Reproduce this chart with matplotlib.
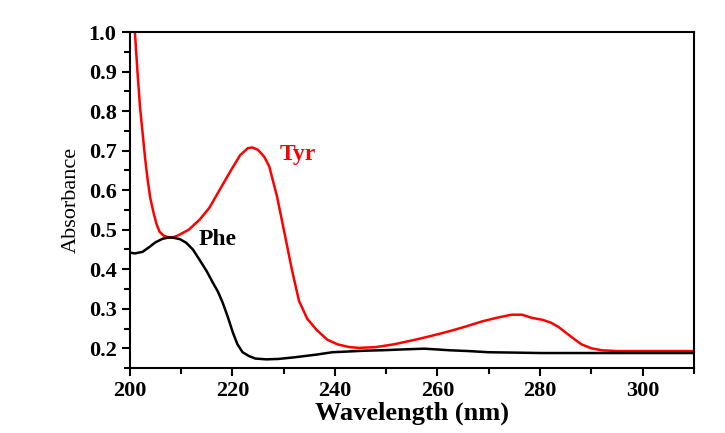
import matplotlib.pyplot as plt
from matplotlib.ticker import MultipleLocator

# Absorbance spectra
tyr_nm = [201.0, 201.5, 202.0, 202.5, 203.0, 203.5, 204.0, 204.6, 205.2, 205.8,
          206.6, 207.5, 208.5, 209.5, 211.5, 213.6,
          215.5, 217.5, 219.5, 221.5, 223.0, 223.9, 225.0, 226.2, 227.2, 228.7,
          230.2, 231.6, 233.0, 234.6, 236.4, 238.5, 240.5, 242.8, 244.7, 248.0,
          251.5, 255.8, 259.0, 262.3, 265.5, 268.7, 271.5, 274.5, 276.5, 278.4,
          280.5, 282.1, 283.6, 285.0, 286.5, 288.1, 290.0, 292.0, 295.0, 300.0,
          305.0, 310.0]
tyr_abs = [1.000, 0.900, 0.810, 0.745, 0.680, 0.625, 0.580, 0.545, 0.515, 0.495,
           0.485, 0.481, 0.481, 0.486, 0.500, 0.525,
           0.555, 0.600, 0.645, 0.688, 0.706, 0.708, 0.702, 0.685, 0.660, 0.585,
           0.490, 0.400, 0.320, 0.275, 0.247, 0.222, 0.210, 0.203, 0.201, 0.203,
           0.210, 0.222, 0.232, 0.243, 0.255, 0.268, 0.277, 0.285, 0.285, 0.277,
           0.272, 0.265, 0.254, 0.240, 0.225, 0.210, 0.200, 0.195, 0.193, 0.193,
           0.193, 0.193]

phe_nm = [200.0, 201.0, 202.5, 203.9, 205.0, 206.4, 207.5, 208.4, 209.8, 211.0,
          212.3, 213.6, 215.0, 216.2, 217.2, 218.1, 219.1, 220.1, 221.0, 222.0,
          223.3, 224.5, 226.6, 229.0, 232.0, 236.4, 239.5, 242.8, 246.0, 249.2,
          253.0, 257.4, 260.0, 262.3, 266.0, 270.0, 275.3, 280.0, 290.0, 300.0,
          310.0]
phe_abs = [0.442, 0.440, 0.444, 0.457, 0.468, 0.477, 0.480, 0.480, 0.476, 0.467,
           0.450, 0.424, 0.395, 0.366, 0.343, 0.316, 0.280, 0.240, 0.210, 0.190,
           0.180, 0.174, 0.172, 0.173, 0.177, 0.184, 0.190, 0.192, 0.194, 0.195,
           0.197, 0.199, 0.197, 0.195, 0.193, 0.190, 0.189, 0.188, 0.188, 0.188,
           0.188]

plt.rcParams["font.family"] = "Liberation Serif"

fig = plt.figure(figsize=(7.25, 4.33), dpi=100)
ax = fig.add_axes([0.179, 0.150, 0.778, 0.776])

ax.plot(tyr_nm, tyr_abs, color="#ff0000", lw=1.8)
ax.plot(phe_nm, phe_abs, color="black", lw=1.8)

ax.text(229.2, 0.69, "Tyr", color="#ff0000", fontsize=17, fontweight="bold",
        va="center")
ax.text(213.5, 0.475, "Phe", color="black", fontsize=17, fontweight="bold",
        va="center")

ax.set_xlim(200, 310)
ax.set_ylim(0.15, 1.0)
ax.xaxis.set_major_locator(MultipleLocator(20))
ax.xaxis.set_minor_locator(MultipleLocator(10))
ax.yaxis.set_major_locator(MultipleLocator(0.1))
ax.yaxis.set_minor_locator(MultipleLocator(0.05))
ax.yaxis.set_major_formatter(plt.FormatStrFormatter("%.1f"))

ax.tick_params(which="both", direction="out", width=1.5, top=False, right=False)
ax.tick_params(which="major", length=6, labelsize=16)
ax.tick_params(which="minor", length=4)
for lbl in ax.get_xticklabels() + ax.get_yticklabels():
    lbl.set_fontweight("bold")
for s in ax.spines.values():
    s.set_linewidth(1.5)

ax.set_xlabel("Wavelength (nm)", fontsize=19, fontweight="bold", labelpad=0)
ax.set_ylabel("Absorbance", fontsize=16, labelpad=6)

fig.savefig("out.png", dpi=100)
